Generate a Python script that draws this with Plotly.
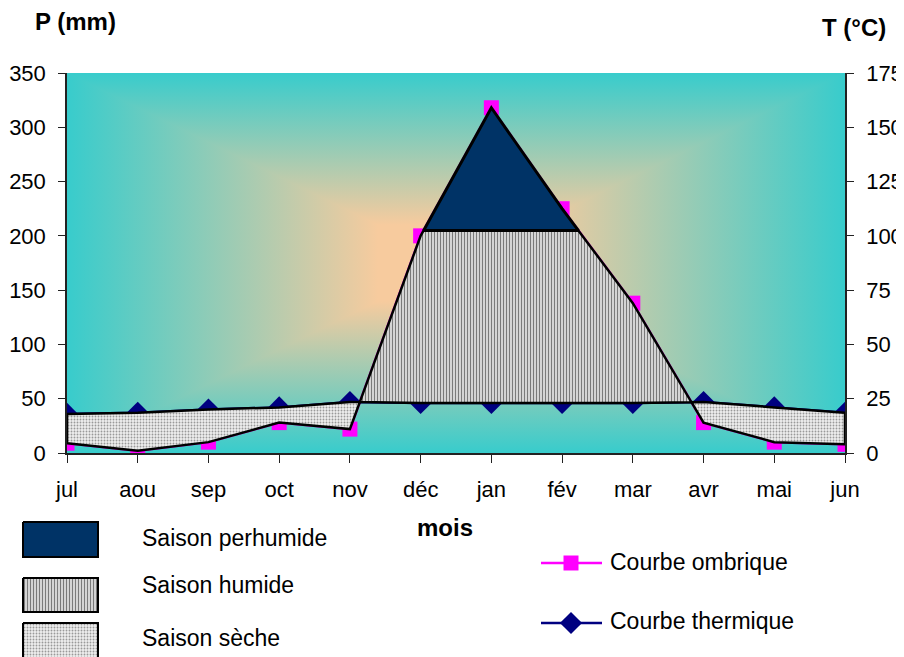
import base64
import numpy as np
import plotly.graph_objects as go

# ---------------- data ----------------
MONTHS = ['jul', 'aou', 'sep', 'oct', 'nov', 'déc', 'jan', 'fév', 'mar', 'avr', 'mai', 'jun']
PRECIP = [9, 2, 10, 28, 22, 200, 318, 225, 138, 28, 10, 8]          # P (mm)
TEMP = [18, 18.5, 20, 21, 23.5, 23, 23, 23, 23, 23.5, 21, 18.5]      # T (°C)
PERHUMID_LIMIT = 205                                                  # P (mm)
P_TICKS = [0, 50, 100, 150, 200, 250, 300, 350]
T_TICKS = [0, 25, 50, 75, 100, 125, 150, 175]

VW, VH = 904, 657          # window size
OFF = 8                    # page body margin
W, H = VW - OFF, VH - OFF  # figure size
FONT = "Liberation Sans, Arial, sans-serif"
EDGE = "#38CCCC"
CENTER = "#F7CB9E"
MAGENTA = "#FF00FF"
NAVY = "#000080"
PERHUMID_COL = "#003366"

def px(x):
    return (x - OFF) / W

def py(y):
    return 1 - (y - OFF) / H

# ---------------- regions (Gaussen: P = 2T) ----------------
n = len(MONTHS)
idx = np.arange(n)
p = np.array(PRECIP, float) / 2.0      # precipitation in T units
t = np.array(TEMP, float)
h = np.full(n, PERHUMID_LIMIT / 2.0)

def crossings(a, b):
    out = []
    d = a - b
    for i in range(n - 1):
        if d[i] * d[i + 1] < 0:
            out.append(i + d[i] / (d[i] - d[i + 1]))
    return out

xs = sorted(set(idx.tolist()) | set(crossings(p, t)) | set(crossings(p, h)))

def f(arr):
    return lambda x: float(np.interp(x, idx, arr))

fp, ft, fh = f(p), f(t), f(h)

def regions(lower, upper):
    runs, cur = [], []
    for x in xs:
        lo, up = lower(x), upper(x)
        if up - lo >= -1e-9:
            cur.append((x, lo, up))
        else:
            if cur:
                runs.append(cur)
            cur = []
    if cur:
        runs.append(cur)
    polys = []
    for r in runs:
        if len(r) < 2 or max(u - l for _, l, u in r) <= 1e-9:
            continue
        X = [q[0] for q in r] + [q[0] for q in reversed(r)] + [r[0][0]]
        Y = [q[2] for q in r] + [q[1] for q in reversed(r)] + [r[0][2]]
        polys.append((X, Y))
    return polys

dry = regions(fp, ft)
humid = regions(ft, lambda x: min(fp(x), fh(x)))
perhumid = regions(fh, fp)

fig = go.Figure()

# curves
fig.add_trace(go.Scatter(x=idx, y=PRECIP, mode='lines+markers', yaxis='y',
                         line=dict(color=MAGENTA, width=2.5),
                         marker=dict(symbol='square', size=15, color=MAGENTA),
                         showlegend=False, hoverinfo='skip'))
fig.add_trace(go.Scatter(x=idx, y=TEMP, mode='lines+markers', yaxis='y2',
                         line=dict(color=NAVY, width=2.5),
                         marker=dict(symbol='diamond', size=17, color=NAVY),
                         showlegend=False, hoverinfo='skip'))

DRY_PAT = dict(shape='.', fgcolor='#999999', bgcolor='#eeeeee', size=3, solidity=0.3)
HUM_PAT = dict(shape='|', fgcolor='#7a7a7a', bgcolor='#ffffff', size=3, solidity=0.55)

for X, Y in dry:
    fig.add_trace(go.Scatter(x=X, y=Y, yaxis='y2', mode='lines', fill='toself',
                             fillcolor='#eeeeee', fillpattern=DRY_PAT,
                             line=dict(color='black', width=2.5),
                             showlegend=False, hoverinfo='skip'))
for X, Y in humid:
    fig.add_trace(go.Scatter(x=X, y=Y, yaxis='y2', mode='lines', fill='toself',
                             fillcolor='#ffffff', fillpattern=HUM_PAT,
                             line=dict(color='black', width=2.5),
                             showlegend=False, hoverinfo='skip'))
for X, Y in perhumid:
    fig.add_trace(go.Scatter(x=X, y=Y, yaxis='y2', mode='lines', fill='toself',
                             fillcolor=PERHUMID_COL,
                             line=dict(color='black', width=3),
                             showlegend=False, hoverinfo='skip'))

# ---------------- custom legend (pixel overlay axis, window pixels) ----------------
def box(x0, y0, x1, y1, **kw):
    fig.add_trace(go.Scatter(x=[x0, x1, x1, x0, x0], y=[y0, y0, y1, y1, y0],
                             xaxis='x3', yaxis='y3', mode='lines', fill='toself',
                             line=dict(color='black', width=2), showlegend=False,
                             hoverinfo='skip', **kw))

box(23, 522, 98, 557, fillcolor=PERHUMID_COL)
box(23, 578, 98, 612, fillcolor='#ffffff', fillpattern=HUM_PAT)
box(23, 623, 98, 664, fillcolor='#eeeeee', fillpattern=DRY_PAT)

for yy, col, sym, sz in [(563, MAGENTA, 'square', 15), (623, NAVY, 'diamond', 17)]:
    fig.add_trace(go.Scatter(x=[541, 602], y=[yy, yy], xaxis='x3', yaxis='y3', mode='lines',
                             line=dict(color=col, width=2.5), showlegend=False, hoverinfo='skip'))
    fig.add_trace(go.Scatter(x=[571], y=[yy], xaxis='x3', yaxis='y3', mode='markers',
                             marker=dict(symbol=sym, size=sz, color=col),
                             showlegend=False, hoverinfo='skip'))

# ---------------- background gradient ----------------
svg = f'''<svg xmlns="http://www.w3.org/2000/svg" viewBox="0 0 100 100" preserveAspectRatio="none" width="778" height="380">
<defs>
<linearGradient id="gv" gradientUnits="userSpaceOnUse" x1="0" y1="0" x2="0" y2="100">
<stop offset="0" stop-color="{EDGE}"/><stop offset="0.4" stop-color="{CENTER}"/>
<stop offset="0.6" stop-color="{CENTER}"/><stop offset="1" stop-color="{EDGE}"/></linearGradient>
<linearGradient id="gh" gradientUnits="userSpaceOnUse" x1="0" y1="0" x2="100" y2="0">
<stop offset="0" stop-color="{EDGE}"/><stop offset="0.4" stop-color="{CENTER}"/>
<stop offset="0.6" stop-color="{CENTER}"/><stop offset="1" stop-color="{EDGE}"/></linearGradient>
</defs>
<rect x="0" y="0" width="100" height="100" fill="url(#gv)"/>
<polygon points="0,0 50,50 0,100" fill="url(#gh)"/>
<polygon points="100,0 50,50 100,100" fill="url(#gh)"/>
</svg>'''
src = "data:image/svg+xml;base64," + base64.b64encode(svg.encode()).decode()

fig.add_layout_image(dict(source=src, xref='x domain', yref='y domain', x=0, y=1,
                          sizex=1, sizey=1, xanchor='left', yanchor='top',
                          sizing='stretch', layer='below'))

# ---------------- layout ----------------
XD = [px(67), px(845)]
YD = [py(453), py(73)]
tickfont = dict(family=FONT, size=22, color='black')

fig.update_layout(
    template='none',
    width=W, height=H, autosize=False,
    margin=dict(l=0, r=0, t=0, b=0, pad=0),
    paper_bgcolor='white', plot_bgcolor='rgba(0,0,0,0)',
    font=dict(family=FONT, color='black'),
    showlegend=False,
    xaxis=dict(domain=XD, range=[0, n - 1], tickvals=idx.tolist(), ticktext=MONTHS,
               showgrid=False, zeroline=False, showline=True, linecolor='#222', linewidth=1.5,
               ticks='outside', ticklen=8, tickcolor='#222', tickfont=tickfont,
               ticklabelstandoff=8, anchor='y', fixedrange=True, automargin=False),
    yaxis=dict(domain=YD, range=[0, 350], tickvals=P_TICKS,
               showgrid=False, zeroline=False, showline=True, linecolor='#222', linewidth=1.5,
               ticks='outside', ticklen=7, tickcolor='#222', tickfont=tickfont,
               ticklabelstandoff=8, anchor='x', fixedrange=True, automargin=False),
    yaxis2=dict(domain=YD, range=[0, 175], tickvals=T_TICKS, overlaying='y', side='right',
                showgrid=False, zeroline=False, showline=True, linecolor='#222', linewidth=1.5,
                ticks='outside', ticklen=7, tickcolor='#222', tickfont=tickfont,
                ticklabelstandoff=8, anchor='x', fixedrange=True, automargin=False),
    xaxis3=dict(domain=[0, 1], range=[OFF, OFF + W], visible=False, anchor='y3',
                fixedrange=True, automargin=False),
    yaxis3=dict(domain=[0, 1], range=[OFF + H, OFF], visible=False, anchor='x3',
                fixedrange=True, automargin=False),
)

def label(text, x, y, size=23, bold=False, xanchor='left'):
    fig.add_annotation(text=f"<b>{text}</b>" if bold else text, x=px(x), y=py(y),
                       xref='paper', yref='paper', showarrow=False,
                       xanchor=xanchor, yanchor='middle',
                       font=dict(family=FONT, size=size, color='black'))

label('P (mm)', 75, 22, size=24, bold=True, xanchor='center')
label('T (°C)', 854, 28, size=24, bold=True, xanchor='center')
label('mois', 445, 527, size=24, bold=True, xanchor='center')
label('Saison perhumide', 140, 538)
label('Saison humide', 140, 585)
label('Saison sèche', 140, 638)
label('Courbe ombrique', 608, 562)
label('Courbe thermique', 608, 621)

fig.write_html("out.html")
